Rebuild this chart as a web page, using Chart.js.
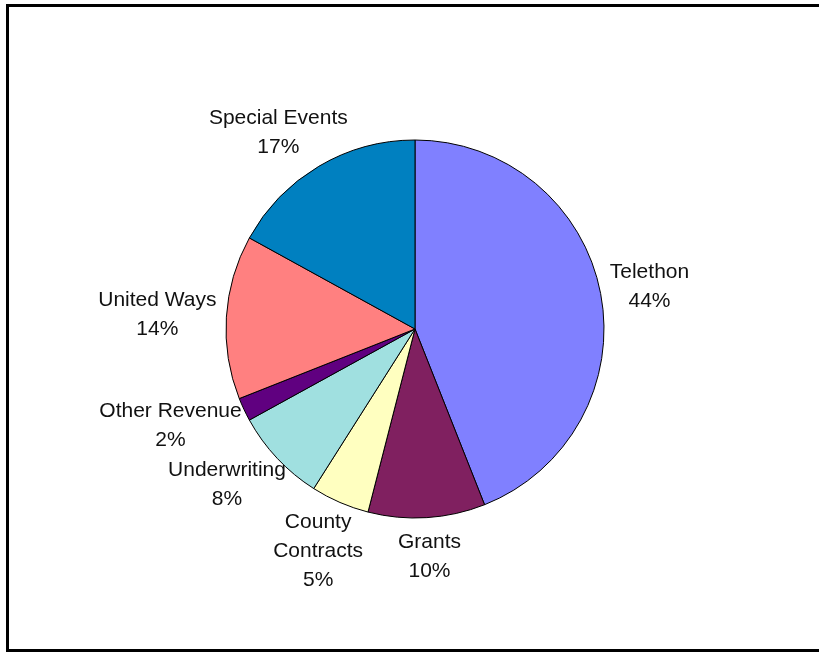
<!DOCTYPE html>
<html>
<head>
<meta charset="utf-8">
<script src="https://cdn.jsdelivr.net/npm/chart.js@4"></script>
<style>
    html, body { margin: 0; padding: 0; background: #fff; overflow: hidden; }
    #wrap { position: relative; width: 819px; height: 653px; }
    #frame {
        position: absolute; left: 6px; top: 4px; width: 840px; height: 648px;
        border: 3px solid #000; box-sizing: border-box; pointer-events: none;
    }
</style>
</head>
<body>
<div id="wrap">
    <canvas id="pieChart" width="819" height="653"></canvas>
    <div id="frame"></div>
</div>
<script>
// --- data ---
const categories = ['Telethon', 'Grants', ['County', 'Contracts'], 'Underwriting', 'Other Revenue', 'United Ways', 'Special Events'];
const shares = [44, 10, 5, 8, 2, 14, 17];
const sliceColors = ['#8080FF', '#802060', '#FFFFC0', '#A0E0E0', '#600080', '#FF8080', '#0080C0'];

// labels outside the pie: category name(s) + percentage
const outsideLabels = {
    id: 'outsideLabels',
    afterDatasetsDraw(chart) {
        const ctx = chart.ctx;
        const meta = chart.getDatasetMeta(0);
        const data = chart.data.datasets[0].data;
        const total = data.reduce((a, b) => a + b, 0);
        const lineH = 29;
        const gap = 10;
        ctx.save();
        ctx.font = '21px "Liberation Sans", Arial, sans-serif';
        ctx.fillStyle = '#111';
        ctx.textAlign = 'center';
        ctx.textBaseline = 'middle';
        meta.data.forEach(function(arc, i) {
            const p = arc.getProps(['x', 'y', 'startAngle', 'endAngle', 'outerRadius'], true);
            const mid = (p.startAngle + p.endAngle) / 2;
            const dx = Math.cos(mid), dy = Math.sin(mid);
            const name = chart.data.labels[i];
            const lines = (Array.isArray(name) ? name.slice() : [name]);
            lines.push(Math.round(data[i] / total * 100) + '%');
            const w = Math.max.apply(null, lines.map(l => ctx.measureText(l).width));
            const h = lines.length * lineH;
            const ax = p.x + dx * (p.outerRadius + gap);
            const ay = p.y + dy * (p.outerRadius + gap);
            const cx = ax + dx * w / 2;
            const cy = ay + dy * h / 2;
            lines.forEach(function(l, j) {
                ctx.fillText(l, cx, cy - h / 2 + lineH / 2 + j * lineH);
            });
        });
        ctx.restore();
    }
};

const canvas = document.getElementById('pieChart');
new Chart(canvas.getContext('2d'), {
    type: 'pie',
    data: {
        labels: categories,
        datasets: [{
            data: shares,
            backgroundColor: sliceColors,
            borderColor: '#000',
            borderWidth: 1
        }]
    },
    options: {
        responsive: false,
        animation: false,
        devicePixelRatio: 1,
        radius: 189,
        layout: { padding: { left: 11, right: 0, top: 5, bottom: 0 } },
        plugins: {
            legend: { display: false },
            tooltip: { enabled: false }
        }
    },
    plugins: [outsideLabels]
});
</script>
</body>
</html>
